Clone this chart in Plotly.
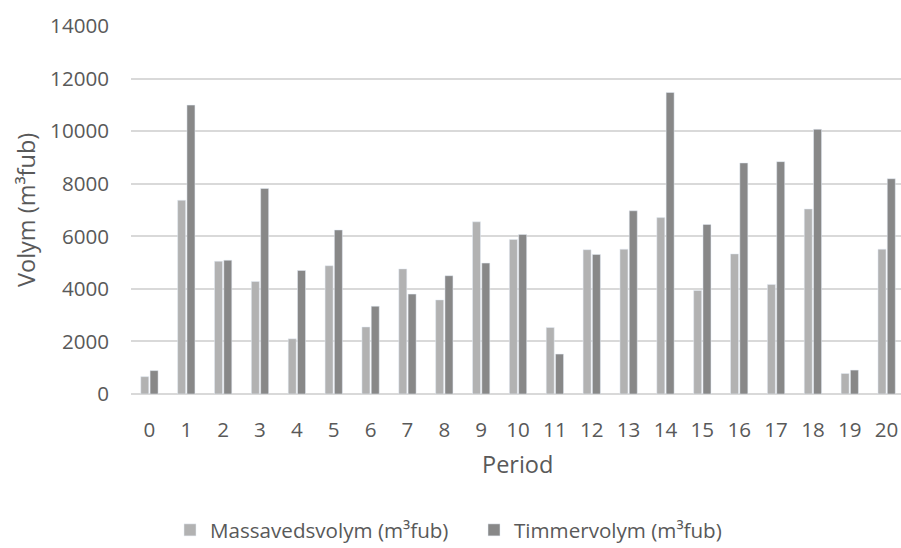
import plotly.graph_objects as go

# Periods and harvested volumes per period
periods = [str(i) for i in range(21)]
massaved = [660, 7370, 5050, 4280, 2100, 4880, 2550, 4760, 3580, 6550, 5880,
            2530, 5490, 5510, 6710, 3940, 5330, 4170, 7040, 780, 5510]
timmer = [890, 10990, 5090, 7820, 4700, 6240, 3340, 3800, 4500, 4980, 6070,
          1520, 5310, 6970, 11470, 6450, 8790, 8840, 10070, 910, 8190]
y_ticks = list(range(0, 14001, 2000))
y_ticktext = [str(v) for v in y_ticks]

TEXT = "#595959"
FONT = "Open Sans"
W, H = 901, 548
M_L, M_R, M_T, M_B = 131, 0, 26, 154
PLOT_W = W - M_L - M_R
PLOT_H = H - M_T - M_B


def px_x(x):
    return (x - M_L) / PLOT_W


def px_y(y):
    return (H - M_B - y) / PLOT_H


fig = go.Figure()
fig.add_trace(go.Bar(x=periods, y=massaved, name="Massavedsvolym (m³fub)",
                     marker=dict(color="#b2b2b2")))
fig.add_trace(go.Bar(x=periods, y=timmer, name="Timmervolym (m³fub)",
                     marker=dict(color="#888888")))

fig.update_layout(
    width=W, height=H,
    margin=dict(l=M_L, r=M_R, t=M_T, b=M_B),
    paper_bgcolor="white", plot_bgcolor="white",
    barmode="group", bargap=0.495, bargroupgap=0.14,
    font=dict(family=FONT, size=20.6, color=TEXT),
    showlegend=True,
    legend=dict(orientation="h", xref="container", yref="container",
                x=170 / W, xanchor="left", y=1 - 530 / H, yanchor="middle",
                font=dict(size=20.6, color=TEXT),
                entrywidth=259, itemwidth=30),
    xaxis=dict(type="category", range=[-0.5, 20.39], showgrid=False,
               showline=False, zeroline=False, ticks="",
               ticklabelstandoff=21,
               tickfont=dict(size=20.6, color=TEXT)),
    yaxis=dict(range=[0, 14000], tickvals=y_ticks, ticktext=y_ticktext,
               showgrid=True, gridcolor="#d9d9d9", gridwidth=1.5,
               zeroline=True, zerolinecolor="#d9d9d9", zerolinewidth=2,
               showline=False, ticks="", ticklabelstandoff=21,
               tickfont=dict(size=20.6, color=TEXT)),
    annotations=[
        dict(text="Period", xref="paper", yref="paper",
             x=px_x(517), y=px_y(463.5),
             xanchor="center", yanchor="middle", showarrow=False,
             font=dict(size=23.5, color=TEXT)),
        dict(text="Volym (m³fub)", xref="paper", yref="paper",
             x=px_x(26), y=px_y(210), textangle=-90,
             xanchor="center", yanchor="middle", showarrow=False,
             font=dict(size=23.5, color=TEXT)),
    ],
)

fig.write_html("out.html")
